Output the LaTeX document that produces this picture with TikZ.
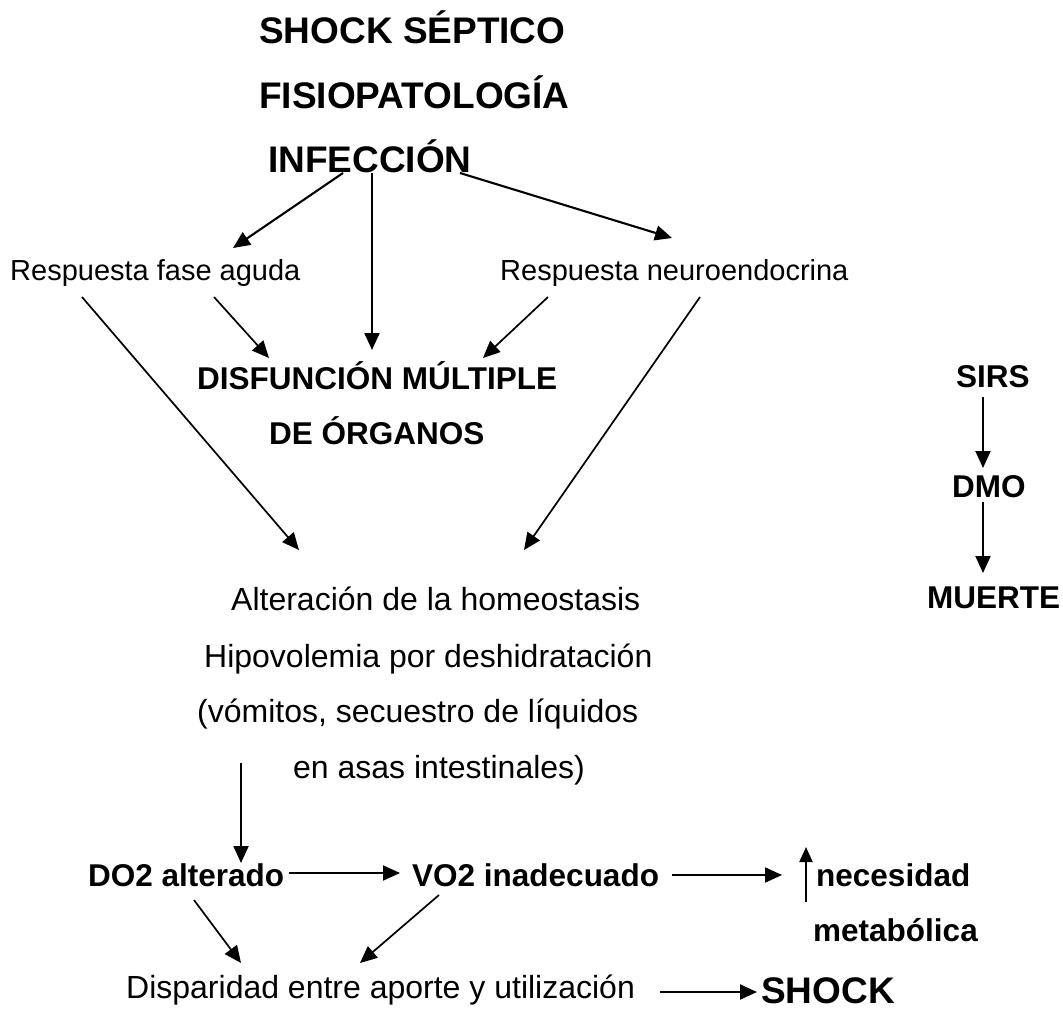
\documentclass[tikz,border=0pt]{standalone}
\usepackage{fontspec}
\setmainfont{Liberation Sans}
\usetikzlibrary{arrows.meta,calc}
\begin{document}
\begin{tikzpicture}[x=1pt,y=-1pt,
  txt/.style={anchor=base west,inner sep=0pt,font=\fontsize{29}{34}\selectfont},
  txtl/.style={anchor=base west,inner sep=0pt,font=\fontsize{32}{38}\selectfont},
  bld/.style={anchor=base west,inner sep=0pt,font=\fontsize{31.5}{38}\selectfont\bfseries},
  ttl/.style={anchor=base west,inner sep=0pt,font=\fontsize{37}{44}\selectfont\bfseries},
  arr/.style={line width=2.1pt,-{Triangle[length=17pt,width=15pt]}},
  thin/.style={line width=1.7pt}]
\useasboundingbox (0,0) rectangle (1063,1009);

% titles
\node[ttl] (t1) at (259,43) {SHOCK SÉPTICO};
\node[ttl] (t2) at (259,108) {FISIOPATOLOGÍA};
\node[ttl] (inf) at (268,172) {INFECCIÓN};

% responses
\node[txt] (rfa) at (10,280) {Respuesta fase aguda};
\node[txt] (rn) at (500,280) {Respuesta neuroendocrina};

% organ dysfunction
\node[bld] (dmo1) at (197,389) {DISFUNCIÓN MÚLTIPLE};
\node[bld] (dmo2) at (269,444) {DE ÓRGANOS};

% side chain
\node[bld] (sirs) at (956,387) {SIRS};
\node[bld] (dmo) at (952,497) {DMO};
\node[bld] (mue) at (927,608) {MUERTE};

% homeostasis block
\node[txtl] (alt) at (231,610) {Alteración de la homeostasis};
\node[txtl] (hip) at (204,667) {Hipovolemia por deshidratación};
\node[txtl] (vom) at (197,722) {(vómitos, secuestro de líquidos};
\node[txtl] (asas) at (293,778) {en asas intestinales)};

% oxygen delivery / consumption
\node[bld] (do2) at (88,886) {DO2 alterado};
\node[bld] (vo2) at (412,886) {VO2 inadecuado};
\node[bld] (nec) at (816,886) {necesidad};
\node[bld] (met) at (813,941) {metabólica};
\node[txtl] (disp) at (126,998) {Disparidad entre aporte y utilización};
\node[ttl] (shock) at (761,1003) {SHOCK};

\coordinate (hs) at (241,763);

% arrows from the infection
\draw[arr] ($(inf.base west)+(75,1)$) -- ($(rfa.base west)+(223,-32)$);
\draw[arr] ($(inf.base west)+(104,1)$) -- ($(dmo1.base west)+(175,-39)$);
\draw[arr] ($(inf.base west)+(192,1)$) -- ($(rn.base west)+(172,-42)$);

% arrows from the responses
\draw[arr,thin] ($(rfa.base west)+(72,17)$) -- ($(alt.base west)+(68,-60)$);
\draw[arr,thin] ($(rfa.base west)+(204,17)$) -- ($(dmo1.base west)+(72,-31)$);
\draw[arr,thin] ($(rn.base west)+(48,17)$) -- ($(dmo1.base west)+(286,-31)$);
\draw[arr,thin] ($(rn.base west)+(200,17)$) -- ($(alt.base west)+(293,-60)$);

% SIRS chain
\draw[arr] ($(sirs.base west)+(27,10)$) -- ($(dmo.base west)+(31,-29)$);
\draw[arr] ($(dmo.base west)+(31,5)$) -- ($(mue.base west)+(56,-35)$);

% lower chain
\draw[arr] (hs) -- ($(do2.base west)+(153,-23)$);
\draw[arr] ($(do2.base west)+(201,-13)$) -- ($(vo2.base west)+(-12,-13)$);
\draw[arr] ($(vo2.base west)+(260,-11)$) -- ($(nec.base west)+(-34,-11)$);
\draw[line width=2pt,-{Triangle[length=15pt,width=13pt]}] ($(nec.base west)+(-10,16)$) -- ($(nec.base west)+(-10,-39)$);
\draw[arr,thin] ($(do2.base west)+(106,14)$) -- ($(disp.base west)+(115,-35)$);
\draw[arr,thin] ($(vo2.base west)+(27,9)$) -- ($(disp.base west)+(234,-35)$);
\draw[arr] ($(disp.base west)+(534,-6)$) -- ($(shock.base west)+(-4,-11)$);
\end{tikzpicture}
\end{document}
